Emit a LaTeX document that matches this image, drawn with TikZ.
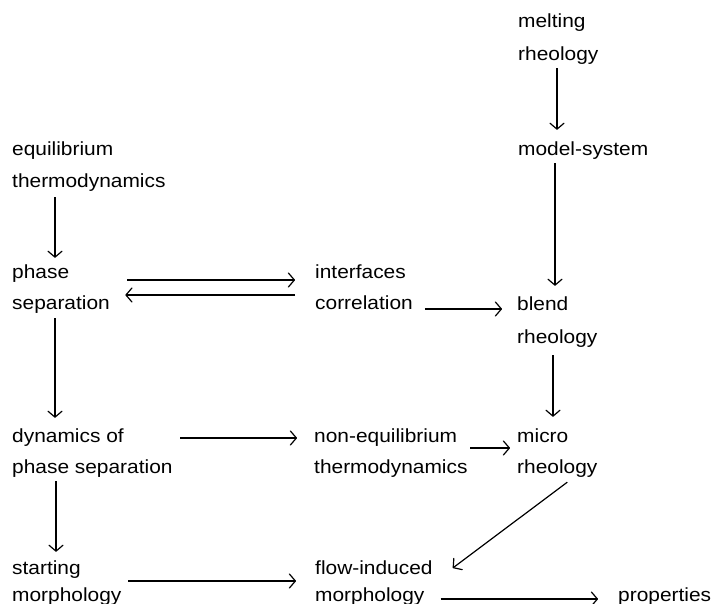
\documentclass[tikz,border=0pt]{standalone}
\usepackage{fontspec}
\setmainfont{Liberation Sans}[FakeStretch=1.1]
\usetikzlibrary{arrows.meta,calc}
\begin{document}
\begin{tikzpicture}[x=1pt,y=-1pt,
  lbl/.style={anchor=base west,inner sep=0pt,text height=14pt,text depth=4pt,font=\fontsize{19}{23}\selectfont},
  arr/.style={-{Straight Barb[length=6pt,width=14pt,round]},line width=1.2pt}]
\useasboundingbox[fill=white] (0,0) rectangle (715,604);
% nodes
\node[lbl] (mt1) at (518,28) {melting};
\node[lbl] (mt2) at (518,61) {rheology};
\node[lbl] (ms)  at (518,156) {model-system};
\node[lbl] (eq1) at (12,156) {equilibrium};
\node[lbl] (eq2) at (12,188) {thermodynamics};
\node[lbl] (ps1) at (12,278) {phase};
\node[lbl] (ps2) at (12,309) {separation};
\node[lbl] (if1) at (315,278) {interfaces};
\node[lbl] (if2) at (315,309) {correlation};
\node[lbl] (bl1) at (517,310) {blend};
\node[lbl] (bl2) at (517,343) {rheology};
\node[lbl] (dy1) at (12,442) {dynamics of};
\node[lbl] (dy2) at (12,473) {phase separation};
\node[lbl] (ne1) at (314,442) {non-equilibrium};
\node[lbl] (ne2) at (314,473) {thermodynamics};
\node[lbl] (mi1) at (517,442) {micro};
\node[lbl] (mi2) at (517,473) {rheology};
\node[lbl] (st1) at (12,574) {starting};
\node[lbl] (st2) at (12,601) {morphology};
\node[lbl] (fi1) at (315,574) {flow-induced};
\node[lbl] (fi2) at (315,601) {morphology};
\node[lbl] (pr)  at (618,601) {properties};
% connectors
\draw[arr] ($(mt2.south west)+(39,3)$) -- ($(ms.north west)+(39,-12)$);
\draw[arr] ($(ms.south west)+(37,3)$) -- ($(bl1.north west)+(38,-10)$);
\draw[arr] ($(eq2.south west)+(43,5)$) -- ($(ps1.north west)+(43,-6)$);
\draw[arr] ($(ps2.south west)+(43,5)$) -- ($(dy1.north west)+(43,-10)$);
\draw[arr] ($(dy2.south west)+(44,4)$) -- ($(st1.north west)+(44,-8)$);
\draw[arr] ($(bl2.south west)+(36,8)$) -- ($(mi1.north west)+(36,-11)$);
\draw[arr] ($(ps1.east)+(58,7)$) -- ($(if1.west)+(-20,7)$);
\draw[arr] ($(if1.west)+(-20,22)$) -- ($(ps1.east)+(56,22)$);
\draw[arr] ($(if2.east)+(12,5)$) -- ($(bl1.west)+(-15,4)$);
\draw[arr] ($(dy1.east)+(56.5,1)$) -- ($(ne1.west)+(-17,1)$);
\draw[arr] ($(ne1.east)+(13,11)$) -- ($(mi1.west)+(-7,11)$);
\draw[arr] ($(st1.east)+(47.5,12)$) -- ($(fi1.west)+(-19,12)$);
\draw[arr] ($(mi2.south)+(10,5)$) -- ($(fi1.east)+(20,-1)$);
\draw[arr] ($(fi2.east)+(16,3)$) -- ($(pr.west)+(-20,3)$);
\end{tikzpicture}
\end{document}
